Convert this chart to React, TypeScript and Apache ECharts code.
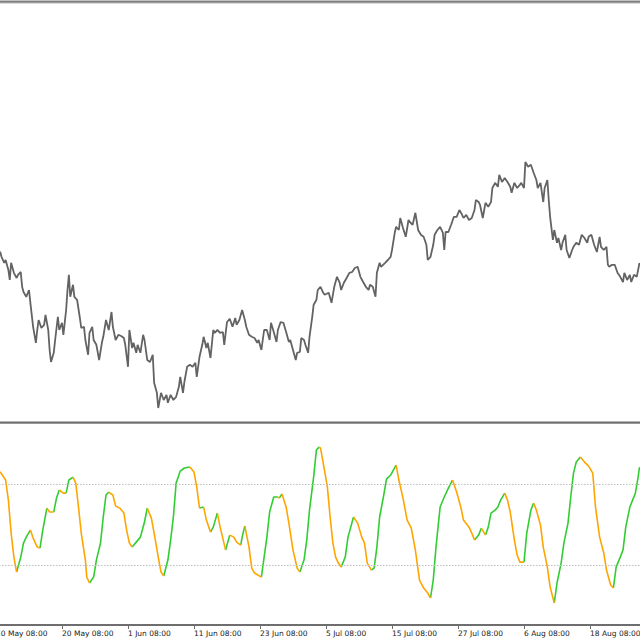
import React, { useEffect, useRef } from "react";
import * as echarts from "echarts";

// Time axis: one unit = one H4 bar; a date label every 48 bars.
const barsPerTick = 48;
const tickLabels = [
  "10 May 08:00",
  "20 May 08:00",
  "1 Jun 08:00",
  "11 Jun 08:00",
  "23 Jun 08:00",
  "5 Jul 08:00",
  "15 Jul 08:00",
  "27 Jul 08:00",
  "6 Aug 08:00",
  "18 Aug 08:00",
];

// Price path: [bar, price]
const pricePoints: number[][] = [
  [3, 142.1], [4, 140.8], [6, 139.3], [7, 140.0], [9, 137.5], [10, 135.0], [11, 139.3], [13, 136.8],
  [15, 135.5], [16, 136.3], [18, 137.0], [19, 133.3], [20, 132.0], [22, 130.8], [24, 132.5], [25, 129.3],
  [27, 123.3], [29, 119.3], [30, 122.5], [31, 125.0], [33, 123.0], [35, 123.8], [36, 126.3], [38, 122.5],
  [39, 117.5], [40, 114.5], [42, 116.8], [43, 120.0], [45, 125.8], [46, 122.5], [48, 124.3], [49, 121.3],
  [51, 127.5], [52, 132.5], [53, 136.3], [54, 130.8], [56, 133.8], [57, 130.8], [59, 130.0], [61, 125.5],
  [62, 123.0], [64, 123.3], [65, 120.0], [67, 116.3], [68, 121.8], [70, 123.3], [71, 120.0], [73, 118.8],
  [75, 115.0], [77, 119.3], [78, 120.8], [80, 125.0], [82, 122.5], [84, 127.0], [85, 123.3], [87, 120.0],
  [89, 121.3], [91, 121.0], [93, 120.5], [94, 118.8], [96, 113.3], [97, 122.5], [99, 118.0], [100, 119.3],
  [102, 116.8], [103, 118.8], [105, 116.8], [107, 121.3], [108, 120.0], [110, 115.0], [112, 114.5], [114, 116.3],
  [115, 109.3], [117, 106.8], [118, 103.0], [120, 106.8], [122, 105.0], [124, 106.3], [125, 104.3], [127, 106.3],
  [129, 105.0], [131, 105.8], [133, 108.3], [134, 110.8], [136, 106.8], [137, 109.5], [139, 113.3], [141, 113.8],
  [143, 113.3], [145, 114.3], [146, 110.8], [148, 115.8], [150, 118.8], [151, 120.8], [153, 118.0], [154, 119.3],
  [156, 115.5], [158, 122.5], [159, 121.8], [161, 122.5], [163, 121.8], [165, 122.0], [166, 118.8], [168, 124.5],
  [170, 125.3], [172, 123.3], [174, 125.5], [175, 123.8], [177, 125.0], [179, 127.5], [181, 125.0], [182, 123.3],
  [184, 121.3], [186, 120.8], [188, 120.5], [190, 119.3], [191, 120.0], [193, 117.5], [195, 122.5], [197, 122.5],
  [199, 120.0], [200, 124.3], [202, 122.0], [204, 119.5], [205, 122.5], [207, 124.5], [209, 124.3], [211, 122.0],
  [213, 119.5], [214, 120.0], [216, 117.5], [218, 115.0], [219, 116.8], [221, 117.0], [222, 120.5], [224, 120.0],
  [225, 118.8], [227, 116.8], [228, 120.8], [230, 125.8], [231, 128.8], [233, 130.0], [234, 132.5], [236, 133.3],
  [238, 131.8], [239, 131.3], [242, 131.8], [244, 129.3], [246, 133.3], [248, 135.8], [250, 134.3], [251, 132.5],
  [253, 134.3], [255, 135.5], [257, 136.8], [259, 137.0], [261, 138.0], [263, 138.3], [265, 135.8], [267, 134.5],
  [269, 133.3], [271, 132.5], [272, 133.8], [274, 133.3], [276, 130.8], [277, 136.8], [279, 139.3], [280, 138.3],
  [283, 139.3], [285, 140.0], [287, 140.8], [288, 142.5], [290, 146.8], [291, 148.3], [293, 147.5], [294, 150.5],
  [296, 148.0], [298, 145.8], [300, 150.0], [301, 149.5], [303, 148.8], [305, 151.8], [307, 147.5], [309, 146.3],
  [311, 145.8], [313, 143.8], [314, 140.0], [316, 140.8], [318, 143.8], [319, 146.3], [321, 147.5], [323, 148.3],
  [325, 146.8], [326, 142.5], [327, 147.0], [329, 147.0], [331, 148.8], [333, 150.8], [335, 150.8], [337, 152.5],
  [339, 151.3], [340, 150.5], [342, 151.3], [344, 150.0], [346, 150.5], [348, 152.5], [349, 155.0], [351, 154.5],
  [352, 153.8], [354, 150.5], [356, 154.3], [358, 153.3], [360, 154.5], [361, 158.0], [363, 159.3], [365, 158.3],
  [366, 161.3], [368, 159.5], [370, 160.5], [372, 159.5], [374, 158.3], [375, 156.8], [377, 159.3], [379, 158.0],
  [381, 158.8], [382, 159.3], [384, 158.0], [385, 164.5], [387, 163.3], [389, 163.8], [391, 161.8], [393, 160.0],
  [394, 158.0], [396, 159.3], [398, 154.5], [399, 158.0], [401, 160.0], [402, 155.0], [403, 150.8], [405, 145.0],
  [406, 147.5], [408, 144.3], [409, 145.5], [411, 142.5], [412, 144.3], [414, 146.3], [415, 142.5], [417, 140.5],
  [419, 142.5], [420, 143.3], [422, 144.3], [424, 143.8], [426, 146.3], [428, 145.5], [430, 144.3], [431, 145.8],
  [433, 146.3], [435, 143.8], [437, 142.0], [439, 145.8], [440, 143.3], [442, 142.5], [444, 143.3], [445, 138.8],
  [446, 138.3], [448, 138.8], [450, 138.8], [452, 136.8], [454, 135.8], [456, 134.5], [457, 136.8], [459, 135.0],
  [461, 136.3], [462, 134.5], [464, 136.3], [466, 135.8], [468, 139.3],
];

// Oscillator: [bar, value]
const oscPoints: number[][] = [
  [3, 89.1], [7, 83.0], [9, 68.1], [11, 43.7], [13, 25.9], [15, 14.8], [18, 25.9], [20, 36.3],
  [22, 40.7], [25, 45.9], [27, 40.0], [30, 33.3], [32, 32.6], [34, 45.9], [37, 62.2], [39, 59.3],
  [42, 59.3], [44, 69.6], [46, 75.6], [49, 73.3], [51, 73.3], [53, 83.0], [56, 85.2], [58, 80.7],
  [60, 63.0], [62, 43.7], [65, 23.7], [66, 11.1], [68, 6.7], [71, 11.1], [73, 23.7], [76, 36.3],
  [78, 55.6], [80, 71.9], [82, 74.1], [85, 71.9], [87, 63.7], [90, 62.2], [93, 58.5], [95, 45.9],
  [97, 36.3], [99, 33.3], [102, 37.0], [105, 40.7], [108, 51.9], [110, 62.2], [113, 54.8], [115, 43.7],
  [118, 25.9], [120, 14.8], [122, 11.9], [125, 23.7], [127, 38.5], [129, 55.6], [131, 80.7], [134, 89.6],
  [137, 91.9], [141, 92.6], [144, 88.9], [146, 77.8], [148, 62.2], [151, 63.0], [153, 53.3], [156, 44.4],
  [158, 48.1], [161, 58.5], [163, 48.1], [167, 31.1], [170, 42.2], [173, 40.7], [175, 37.0], [178, 34.8],
  [179, 40.7], [181, 48.9], [184, 33.3], [186, 17.8], [188, 14.1], [193, 11.1], [194, 18.5], [197, 40.7],
  [199, 59.3], [202, 70.4], [205, 70.4], [206, 69.6], [208, 72.6], [211, 63.0], [213, 51.1], [216, 31.1],
  [219, 17.8], [221, 14.8], [224, 23.7], [226, 38.5], [228, 60.7], [231, 85.2], [233, 105.2], [235, 107.4],
  [236, 106.7], [238, 95.6], [241, 77.8], [243, 55.6], [245, 36.3], [247, 25.9], [249, 21.5], [251, 18.5],
  [254, 25.9], [256, 40.7], [260, 55.6], [263, 51.1], [266, 40.7], [268, 36.3], [270, 21.5], [273, 16.3],
  [275, 17.8], [277, 33.3], [279, 55.6], [282, 71.9], [284, 83.7], [287, 86.7], [289, 90.4], [291, 94.1],
  [293, 83.0], [296, 69.6], [299, 53.3], [302, 47.4], [305, 31.1], [308, 8.9], [311, 3.0], [314, -0.7],
  [316, -4.4], [318, 8.9], [320, 33.3], [323, 63.0], [326, 70.4], [329, 77.0], [332, 83.0], [335, 74.1],
  [338, 63.0], [340, 53.3], [344, 48.1], [346, 43.7], [348, 38.5], [351, 42.2], [353, 47.4], [356, 42.2],
  [358, 48.1], [360, 58.5], [363, 60.7], [365, 63.0], [367, 68.1], [370, 73.3], [372, 68.1], [374, 59.3],
  [377, 38.5], [379, 27.4], [381, 22.2], [384, 22.2], [386, 43.7], [389, 60.7], [391, 65.9], [393, 60.7],
  [396, 49.6], [398, 33.3], [401, 18.5], [403, 3.7], [406, -8.1], [408, 6.7], [411, 21.5], [413, 36.3],
  [416, 51.1], [418, 70.4], [420, 88.1], [422, 96.3], [425, 100.0], [428, 96.3], [431, 93.3], [434, 88.1],
  [436, 63.0], [439, 40.7], [442, 28.9], [444, 16.3], [447, 5.2], [449, 3.0], [451, 18.5], [454, 25.9],
  [456, 31.1], [458, 48.1], [461, 63.0], [465, 73.3], [467, 85.2], [468, 92.6],
];

const oscLevels = [80, 20];

const PRICE_COLOR = "#636363";
const UP_COLOR = "#32cd32";
const DOWN_COLOR = "#ffa500";

function splitByDirection(pts: number[][]) {
  const up: (number | null)[][] = [];
  const down: (number | null)[][] = [];
  let prev: boolean | null = null;
  for (let i = 0; i < pts.length - 1; i++) {
    const a = pts[i];
    const b = pts[i + 1];
    const rising = b[1] > a[1] || (b[1] === a[1] && prev === true);
    const target = rising ? up : down;
    if (prev !== rising) {
      if (target.length) target.push([a[0], null]);
      target.push(a);
    }
    target.push(b);
    prev = rising;
  }
  return { up, down };
}

export default function App() {
  const ref = useRef<HTMLDivElement>(null);

  useEffect(() => {
    document.body.style.margin = "0";
    const chart = echarts.init(ref.current!, null, { renderer: "svg" });
    const { up, down } = splitByDirection(oscPoints);

    const bandRows = (y0: number, colors: string[]) =>
      colors.map((c, i) => ({
        type: "rect",
        shape: { x: 0, y: y0 + i, width: 640, height: 1 },
        style: { fill: c },
        silent: true,
        z: 100,
      }));

    chart.setOption({
      animation: false,
      backgroundColor: "#ffffff",
      grid: [
        { left: -4, right: -16, top: 4, height: 416, outerBoundsMode: "none" },
        { left: -4, right: -16, top: 424, height: 201, outerBoundsMode: "none" },
      ],
      xAxis: [
        { type: "value", gridIndex: 0, min: 0, max: 480, interval: barsPerTick, show: false },
        {
          type: "value",
          gridIndex: 1,
          min: 0,
          max: 480,
          interval: barsPerTick,
          axisLine: { show: true, onZero: false, lineStyle: { color: "#6e6e6e", width: 2 } },
          axisTick: { show: true, length: 4, lineStyle: { color: "#6e6e6e", width: 1 } },
          splitLine: { show: false },
          axisLabel: {
            show: true,
            align: "left",
            margin: 4,
            fontSize: 7.5,
            fontFamily: "DejaVu Sans",
            color: "#1a1a1a",
            showMinLabel: true,
            showMaxLabel: false,
            formatter: (v: number) => {
              const k = v / barsPerTick;
              return Number.isInteger(k) && k < tickLabels.length ? tickLabels[k] : "";
            },
          },
        },
      ],
      yAxis: [
        { type: "value", gridIndex: 0, min: 100, max: 204, show: false, splitLine: { show: false } },
        { type: "value", gridIndex: 1, min: -24.4, max: 124.5, show: false, splitLine: { show: false } },
      ],
      series: [
        {
          name: "Price",
          type: "line",
          xAxisIndex: 0,
          yAxisIndex: 0,
          data: pricePoints,
          showSymbol: false,
          symbol: "none",
          lineStyle: { color: PRICE_COLOR, width: 1.8 },
          silent: true,
        },
        {
          name: "Rising",
          type: "line",
          xAxisIndex: 1,
          yAxisIndex: 1,
          data: up,
          connectNulls: false,
          showSymbol: false,
          symbol: "none",
          lineStyle: { color: UP_COLOR, width: 1.6 },
          silent: true,
          z: 3,
          markLine: {
            silent: true,
            symbol: "none",
            label: { show: false },
            lineStyle: { type: [1.5, 1.5], color: "#bdbdbd", width: 1 },
            data: oscLevels.map((v) => ({ yAxis: v })),
          },
        },
        {
          name: "Falling",
          type: "line",
          xAxisIndex: 1,
          yAxisIndex: 1,
          data: down,
          connectNulls: false,
          showSymbol: false,
          symbol: "none",
          lineStyle: { color: DOWN_COLOR, width: 1.6 },
          silent: true,
          z: 3,
        },
      ],
      graphic: [
        ...bandRows(0, ["#c4c4c4", "#7c7c7c", "#9c9c9c", "#dadada"]),
        ...bandRows(421, ["#b8b8b8", "#6c6c6c", "#9a9a9a"]),
      ],
    });

    return () => chart.dispose();
  }, []);

  return <div ref={ref} style={{ width: 640, height: 640 }} />;
}
